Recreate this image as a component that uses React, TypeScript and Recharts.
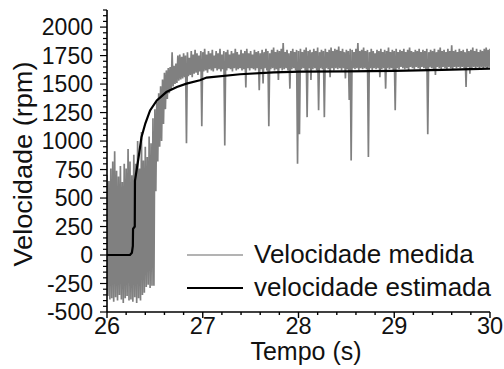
import React from 'react';
import { LineChart, Line, XAxis, YAxis, Legend } from 'recharts';

// measured speed, sampled every 0.01 s starting at t = 26 s (one row = 0.1 s)
const sampleStart = 26;
const sampleStep = 0.01;
const measuredRpm = [
  700, -360, 650, -390, 760, -380, 820, -410, 910, -370,
  740, -400, 690, -350, 780, -390, 640, -420, 800, -380,
  760, -360, 930, -400, 820, -390, 700, -410, 880, -370,
  800, -420, 1000, -380, 760, -400, 1080, -350, 830, -330,
  950, -280, 860, -260, 1040, -290, 980, -270, 1200, -270,
  1280, 560, 1350, 820, 1420, 950, 1480, 1000, 1540, 1150,
  1600, 1280, 1620, 1370, 1640, 1420, 1650, 1450, 1780, 1480,
  1660, 1500, 1680, 1510, 1750, 1530, 1760, 1540, 1740, 1550,
  1770, 1560, 1750, 980, 1780, 1570, 1730, 1580, 1790, 1560,
  1760, 1590, 1800, 1600, 1770, 1580, 1750, 1610, 1790, 1130,
  1780, 1610, 1810, 1620, 1760, 1600, 1790, 1630, 1770, 1620,
  1800, 1610, 1750, 1640, 1790, 1620, 1770, 1630, 1810, 1610,
  1760, 1630, 1790, 960, 1780, 1620, 1800, 1640, 1760, 1630,
  1790, 1610, 1770, 1640, 1810, 1620, 1780, 1630, 1760, 1640,
  1800, 1620, 1770, 1630, 1790, 1470, 1810, 1640, 1770, 1620,
  1790, 1640, 1760, 1630, 1800, 1620, 1780, 1640, 1790, 1445,
  1770, 1630, 1800, 1505, 1780, 1640, 1810, 1620, 1790, 1130,
  1770, 1630, 1800, 1640, 1820, 1620, 1780, 1630, 1800, 1535,
  1790, 1640, 1810, 1620, 1860, 1630, 1780, 1640, 1800, 1620,
  1770, 1460, 1790, 1630, 1810, 1640, 1780, 1620, 1800, 800,
  1790, 1060, 1810, 1630, 1780, 1640, 1800, 1620, 1820, 1210,
  1790, 1640, 1800, 1535, 1780, 1630, 1810, 1640, 1790, 1620,
  1820, 1270, 1780, 1640, 1800, 1630, 1790, 1210, 1810, 1640,
  1780, 1630, 1800, 1560, 1820, 1640, 1790, 1620, 1810, 1640,
  1800, 1630, 1830, 1640, 1790, 1620, 1810, 1640, 1780, 1550,
  1800, 1630, 1790, 1360, 1810, 830, 1800, 1640, 1780, 1630,
  1810, 1640, 1860, 1620, 1790, 1640, 1800, 1630, 1820, 1640,
  1790, 1630, 1800, 860, 1780, 1640, 1810, 1620, 1790, 1640,
  1770, 1630, 1800, 1640, 1790, 1560, 1810, 1630, 1780, 1640,
  1800, 1460, 1790, 1640, 1820, 1630, 1780, 1640, 1800, 1620,
  1790, 1270, 1810, 1640, 1780, 1630, 1800, 1650, 1790, 1640,
  1810, 1630, 1780, 1640, 1800, 1620, 1820, 1650, 1790, 1640,
  1780, 1630, 1800, 1650, 1790, 1640, 1810, 1630, 1780, 1650,
  1800, 1640, 1790, 1630, 1810, 1060, 1780, 1650, 1800, 1640,
  1790, 1630, 1810, 1580, 1780, 1650, 1800, 1640, 1820, 1630,
  1790, 1650, 1800, 1640, 1780, 1630, 1810, 1650, 1790, 1640,
  1840, 1630, 1790, 1650, 1800, 1640, 1780, 1650, 1810, 1640,
  1790, 1650, 1800, 1640, 1780, 1475, 1810, 1650, 1790, 1590,
  1800, 1640, 1820, 1650, 1790, 1640, 1810, 1650, 1780, 1640,
  1800, 1650, 1790, 1640, 1810, 1650, 1820, 1640, 1800, 1650,
  1810,
];

// estimated speed
const estimatedTime = [
  26, 26.24, 26.26, 26.27, 26.272, 26.29, 26.292, 26.33, 26.36, 26.4,
  26.45, 26.52, 26.62, 26.73, 26.83, 26.97, 27.04, 27.39, 27.74, 28.02,
  28.5, 29, 29.5, 30,
];
const estimatedRpm = [
  0, 0, 20, 80, 230, 250, 650, 857, 1033, 1154,
  1269, 1357, 1430, 1474, 1504, 1533, 1557, 1586, 1603, 1610,
  1612, 1615, 1625, 1635,
];

const xTicks = [
  26, 26.2, 26.4, 26.6, 26.8, 27, 27.2, 27.4, 27.6, 27.8, 28,
  28.2, 28.4, 28.6, 28.8, 29, 29.2, 29.4, 29.6, 29.8, 30,
];
const xLabels = [26, 27, 28, 29, 30];
const yLabels = [-500, -250, 0, 250, 500, 750, 1000, 1250, 1500, 1750, 2000];
const yTicks = Array.from({ length: 54 }, (_, i) => -500 + i * 50);

const legendItems = [
  { name: 'Velocidade medida', color: '#9a9a9a', width: 1.6 },
  { name: 'velocidade estimada', color: '#000000', width: 2.2 },
];

const measuredData = measuredRpm.map((v, i) => ({
  t: +(sampleStart + i * sampleStep).toFixed(2),
  v,
}));
const estimatedData = estimatedTime.map((t, i) => ({ t, v: estimatedRpm[i] }));

const font = '"Liberation Sans", Arial, sans-serif';
const ink = '#111111';

const YTick = ({ x, y, payload }: any) => {
  const v = payload.value;
  const major = yLabels.includes(v);
  return (
    <g>
      <line x1={x - (major ? 7 : 4)} x2={x} y1={y} y2={y} stroke="#000" strokeWidth={1.2} />
      {major && (
        <text x={x - 14} y={y} textAnchor="end" dominantBaseline="central"
          fontSize={23} fontFamily={font} fill={ink}>
          {v}
        </text>
      )}
    </g>
  );
};

const XTick = ({ x, y, payload }: any) => {
  const v = payload.value;
  const major = xLabels.includes(v);
  return (
    <g>
      <line x1={x} x2={x} y1={y} y2={y + (major ? 6 : 3)} stroke="#000" strokeWidth={1.4} />
      {major && (
        <text x={x} y={y + 14} textAnchor="middle" dominantBaseline="central"
          fontSize={23.5} fontFamily={font} fill={ink}>
          {v}
        </text>
      )}
    </g>
  );
};

const LegendBox = () => (
  <div style={{ fontFamily: font, fontSize: 26, color: ink }}>
    {legendItems.map((item) => (
      <div key={item.name} style={{ display: 'flex', alignItems: 'center', height: 33, whiteSpace: 'nowrap' }}>
        <svg width={56} height={6} style={{ display: 'block' }}>
          <line x1={0} x2={56} y1={3} y2={3} stroke={item.color} strokeWidth={item.width} />
        </svg>
        <span style={{ marginLeft: 11 }}>{item.name}</span>
      </div>
    ))}
  </div>
);

export default function App() {
  return (
    <div style={{ position: 'absolute', left: 0, top: 0, width: 504, height: 369, background: '#fff' }}>
      <LineChart width={504} height={369} margin={{ top: 10, right: 14, bottom: 0, left: 0 }}>
        <XAxis
          dataKey="t"
          type="number"
          domain={[26, 30]}
          ticks={xTicks}
          interval={0}
          tickSize={0}
          tickMargin={0}
          tick={(p: any) => <XTick {...p} />}
          axisLine={{ stroke: '#000', strokeWidth: 1.6 }}
          tickLine={false}
          height={57}
          allowDataOverflow
          label={() => (
            <text x={306} y={351} textAnchor="middle" dominantBaseline="central"
              fontSize={25} fontFamily={font} fill={ink}>
              Tempo (s)
            </text>
          )}
        />
        <YAxis
          type="number"
          domain={[-500, 2150]}
          ticks={yTicks}
          interval={0}
          tickSize={0}
          tickMargin={0}
          tick={(p: any) => <YTick {...p} />}
          axisLine={{ stroke: '#000', strokeWidth: 1.6 }}
          tickLine={false}
          width={107}
          allowDataOverflow
          label={() => (
            <text x={23} y={164} textAnchor="middle" dominantBaseline="central"
              transform="rotate(-90 23 164)" fontSize={25} fontFamily={font} fill={ink}
              textLength={205} lengthAdjust="spacingAndGlyphs">
              Velocidade (rpm)
            </text>
          )}
        />
        <Legend
          layout="horizontal"
          align="center"
          verticalAlign="middle"
          content={() => <LegendBox />}
          wrapperStyle={{ left: 187, top: 238, width: 317, height: 70 }}
        />
        <Line
          data={measuredData}
          dataKey="v"
          name="Velocidade medida"
          type="linear"
          stroke="#808080"
          strokeWidth={1.7}
          dot={false}
          activeDot={false}
          isAnimationActive={false}
        />
        <Line
          data={estimatedData}
          dataKey="v"
          name="velocidade estimada"
          type="linear"
          stroke="#000"
          strokeWidth={2.2}
          dot={false}
          activeDot={false}
          isAnimationActive={false}
        />
      </LineChart>
    </div>
  );
}
